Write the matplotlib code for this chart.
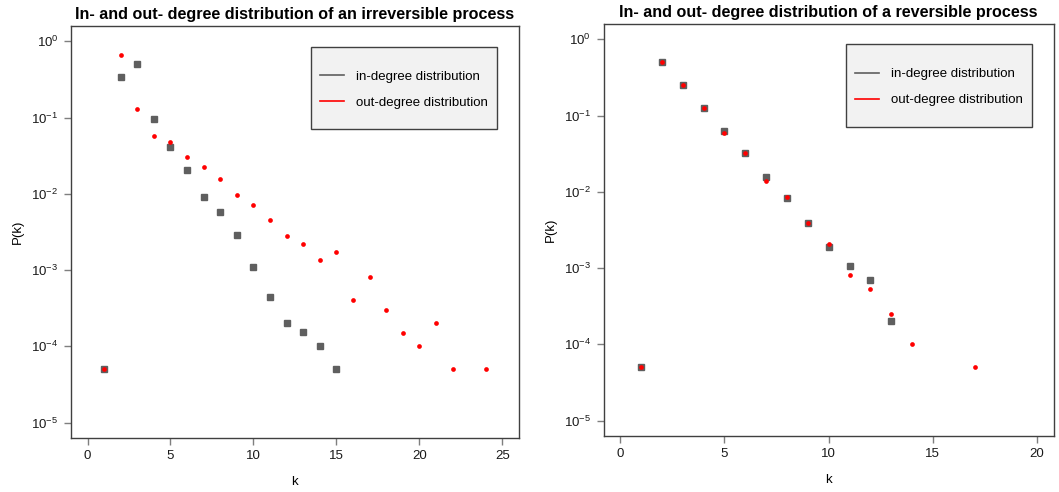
import numpy as np
import matplotlib
matplotlib.use("Agg")
import matplotlib.pyplot as plt
from matplotlib.lines import Line2D
from matplotlib.patches import Rectangle

plt.rcParams['font.family'] = ['Liberation Sans', 'DejaVu Sans']
plt.rcParams['mathtext.fontset'] = 'custom'
plt.rcParams['mathtext.rm'] = 'Liberation Sans'
plt.rcParams['mathtext.it'] = 'Liberation Sans:italic'
plt.rcParams['mathtext.bf'] = 'Liberation Sans:bold'
plt.rcParams['axes.unicode_minus'] = False

## Donnees lues sur l'image
# processus irreversible
k_in_irr = [1, 2, 3, 4, 5, 6, 7, 8, 9, 10, 11, 12, 13, 14, 15]
p_in_irr = [5e-5, 0.34, 0.51, 0.097, 0.041, 0.0203, 0.0091, 0.0057, 0.0029,
            0.00111, 0.00045, 0.000205, 0.000153, 0.0001, 5e-5]
k_out_irr = [1, 2, 3, 4, 5, 6, 7, 8, 9, 10, 11, 12, 13, 14, 15, 16, 17, 18,
             19, 20, 21, 22, 24]
p_out_irr = [5e-5, 0.67, 0.131, 0.057, 0.048, 0.030, 0.0225, 0.0155, 0.0097,
             0.0071, 0.0046, 0.0028, 0.0022, 0.00137, 0.00172, 0.0004, 0.00081,
             0.0003, 0.000152, 0.0001, 0.0002, 5e-5, 5e-5]

# processus reversible
k_in_rev = [1, 2, 3, 4, 5, 6, 7, 8, 9, 10, 11, 12, 13]
p_in_rev = [5e-5, 0.50, 0.249, 0.124, 0.0626, 0.0322, 0.0157, 0.0082, 0.00385,
            0.0019, 0.00106, 0.00069, 0.000203]
k_out_rev = [1, 2, 3, 4, 5, 6, 7, 8, 9, 10, 11, 12, 13, 14, 17]
p_out_rev = [5e-5, 0.50, 0.25, 0.125, 0.0595, 0.032, 0.0141, 0.0086, 0.0039,
             0.0021, 0.00081, 0.00054, 0.00025, 0.0001, 5e-5]

titles = ["In- and out- degree distribution of an irreversible process",
          "In- and out- degree distribution of a reversible process"]
x_ticks = [[0, 5, 10, 15, 20, 25], [0, 5, 10, 15, 20]]
y_ticks = [1, 1e-1, 1e-2, 1e-3, 1e-4, 1e-5]
y_labels = ["$10^{0}$", "$10^{-1}$", "$10^{-2}$", "$10^{-3}$", "$10^{-4}$", "$10^{-5}$"]
leg_labels = ["in-degree distribution", "out-degree distribution"]

gris = "#5f5f5f"
rouge = "#ff0000"

fig = plt.figure(figsize=(10.59, 4.92), dpi=100)
ax1 = fig.add_axes([0.067, 0.110, 0.423, 0.837])
ax2 = fig.add_axes([0.570, 0.114, 0.425, 0.837])

donnees = [(k_in_irr, p_in_irr, k_out_irr, p_out_irr),
           (k_in_rev, p_in_rev, k_out_rev, p_out_rev)]
xlims = [(-1, 26), (-0.8, 20.8)]
# cadre de la legende (x0, y0, largeur, hauteur) en fraction des axes
leg_box = [(0.536, 0.750, 0.415, 0.199), (0.538, 0.750, 0.413, 0.201)]

for i, ax in enumerate([ax1, ax2]):
    kin, pin, kout, pout = donnees[i]
    ax.plot(kin, pin, linestyle='none', marker='s', markersize=4.8,
            color=gris, zorder=3)
    ax.plot(kout, pout, linestyle='none', marker='o', markersize=3.4,
            color=rouge, markeredgewidth=0, zorder=4)
    ax.set_yscale('log')
    ax.set_ylim(10 ** -5.2, 10 ** 0.2)
    ax.set_xlim(*xlims[i])
    ax.set_yticks(y_ticks)
    ax.set_yticklabels(y_labels)
    ax.minorticks_off()
    ax.set_xticks(x_ticks[i])
    ax.tick_params(axis='both', direction='out', length=5, width=1,
                   color='#7f7f7f', labelsize=9.5, labelcolor='#1a1a1a', pad=4)
    for s in ax.spines.values():
        s.set_color('#404040')
        s.set_linewidth(1)
    ax.set_title(titles[i], fontsize=11.6, fontweight='bold', pad=5)
    ax.set_xlabel("k", fontsize=9.5, labelpad=10)
    ax.set_ylabel("P(k)", fontsize=9.5, labelpad=5)

    # cadre gris facon R
    bx, by, bw, bh = leg_box[i]
    ax.add_patch(Rectangle((bx, by), bw, bh, transform=ax.transAxes,
                           facecolor='#f2f2f2', edgecolor='#404040',
                           linewidth=1, zorder=5))
    handles = [Line2D([0], [0], color=gris, lw=1.2),
               Line2D([0], [0], color=rouge, lw=1.2)]
    leg = ax.legend(handles, leg_labels, loc='center',
                    bbox_to_anchor=(bx + bw / 2, by + bh / 2 - 0.004),
                    fontsize=9.5, frameon=False, handlelength=1.8,
                    borderpad=0, labelspacing=1.05, handletextpad=0.9)
    leg.set_zorder(6)

plt.savefig("out.png", dpi=100)
